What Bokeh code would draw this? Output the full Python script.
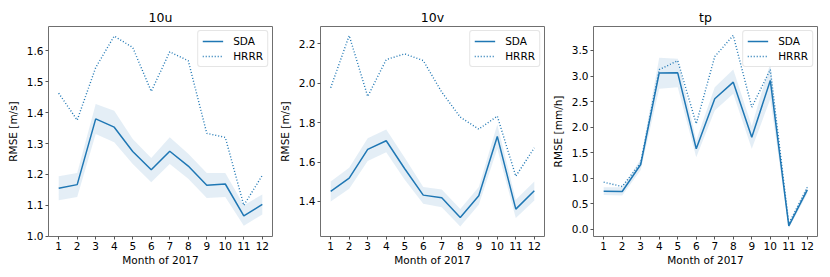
from bokeh.plotting import figure
from bokeh.layouts import row
from bokeh.models import Range1d, FixedTicker, PrintfTickFormatter, Legend, LegendItem
from bokeh.embed import file_html
from bokeh.resources import INLINE

months = [1, 2, 3, 4, 5, 6, 7, 8, 9, 10, 11, 12]
month_labels = ["1", "2", "3", "4", "5", "6", "7", "8", "9", "10", "11", "12"]

# 10u
u_sda = [1.155, 1.167, 1.380, 1.353, 1.274, 1.215, 1.275, 1.227, 1.165, 1.169, 1.066, 1.103]
u_sda_lo = [1.116, 1.127, 1.331, 1.304, 1.234, 1.175, 1.234, 1.186, 1.124, 1.127, 1.034, 1.070]
u_sda_hi = [1.194, 1.205, 1.428, 1.406, 1.315, 1.253, 1.320, 1.267, 1.205, 1.205, 1.100, 1.135]
u_hrrr = [1.463, 1.376, 1.546, 1.648, 1.611, 1.469, 1.597, 1.568, 1.333, 1.320, 1.100, 1.197]

# 10v
v_sda = [1.451, 1.518, 1.664, 1.708, 1.566, 1.432, 1.419, 1.319, 1.429, 1.730, 1.361, 1.454]
v_sda_lo = [1.400, 1.464, 1.605, 1.650, 1.510, 1.388, 1.371, 1.273, 1.383, 1.667, 1.316, 1.405]
v_sda_hi = [1.501, 1.571, 1.721, 1.765, 1.622, 1.473, 1.461, 1.361, 1.473, 1.790, 1.409, 1.501]
v_hrrr = [1.977, 2.242, 1.933, 2.120, 2.149, 2.115, 1.955, 1.828, 1.767, 1.833, 1.528, 1.672]

# tp
tp_sda = [0.744, 0.738, 1.267, 3.060, 3.063, 1.575, 2.554, 2.880, 1.800, 2.913, 0.065, 0.770]
tp_sda_lo = [0.670, 0.660, 1.160, 2.750, 2.780, 1.410, 2.325, 2.652, 1.575, 2.550, 0.020, 0.700]
tp_sda_hi = [0.820, 0.820, 1.370, 3.357, 3.340, 1.740, 2.780, 3.130, 2.020, 3.250, 0.110, 0.850]
tp_hrrr = [0.921, 0.836, 1.300, 3.125, 3.300, 2.065, 3.382, 3.794, 2.390, 3.125, 0.110, 0.820]

BLUE = "#1f77b4"
FONT = "DejaVu Sans"


def panel(title, ylabel, sda, lo, hi, hrrr, y0, y1, yticks, left_border, right_border):
    p = figure(frame_width=224, frame_height=210,
               x_range=Range1d(0.45, 12.55), y_range=Range1d(y0, y1),
               output_backend="svg", toolbar_location=None,
               min_border_left=left_border, min_border_right=right_border,
               min_border_top=26, min_border_bottom=36)
    p.background_fill_color = "white"
    p.border_fill_color = None
    p.xgrid.grid_line_color = None
    p.ygrid.grid_line_color = None
    p.outline_line_color = "#6f6f6f"
    p.outline_line_width = 1

    p.title.text = title
    p.title.align = "center"
    p.title.text_font = FONT
    p.title.text_font_size = "12.5px"
    p.title.text_font_style = "normal"
    p.title.text_color = "black"
    p.title.standoff = 3

    p.xaxis.ticker = FixedTicker(ticks=months)
    p.xaxis.major_label_overrides = {m: l for m, l in zip(months, month_labels)}
    p.yaxis.ticker = FixedTicker(ticks=yticks)
    p.yaxis.formatter = PrintfTickFormatter(format="%.1f")
    p.xaxis.axis_label = "Month of 2017"
    p.yaxis.axis_label = ylabel
    for ax in (p.xaxis[0], p.yaxis[0]):
        ax.axis_line_color = None
        ax.major_tick_line_color = "#555555"
        ax.major_tick_out = 3
        ax.major_tick_in = 0
        ax.minor_tick_line_color = None
        ax.major_label_text_font = FONT
        ax.major_label_text_font_size = "10.5px"
        ax.major_label_text_color = "black"
        ax.major_label_standoff = 2
        ax.axis_label_text_font = FONT
        ax.axis_label_text_font_size = "10.5px"
        ax.axis_label_text_font_style = "normal"
        ax.axis_label_text_color = "black"
    p.xaxis.axis_label_standoff = 1
    p.yaxis.axis_label_standoff = 5

    p.varea(x=months, y1=lo, y2=hi, fill_color=BLUE, fill_alpha=0.12)
    r1 = p.line(months, sda, line_color=BLUE, line_width=1.5)
    r2 = p.line(months, hrrr, line_color=BLUE, line_width=1.4, line_dash="1 2")

    leg = Legend(items=[LegendItem(label="SDA", renderers=[r1]),
                        LegendItem(label="HRRR", renderers=[r2])],
                 location="top_right")
    leg.label_text_font = FONT
    leg.label_text_font_size = "10.5px"
    leg.label_text_color = "black"
    leg.glyph_width = 21
    leg.glyph_height = 12
    leg.label_height = 12
    leg.label_standoff = 10
    leg.spacing = 3
    leg.padding = 4
    leg.margin = 4
    leg.border_line_color = "#cccccc"
    leg.border_line_width = 1
    leg.background_fill_alpha = 0.85
    if "border_radius" in leg.properties():
        leg.border_radius = 3
    p.add_layout(leg)
    return p


p1 = panel("10u", "RMSE [m/s]", u_sda, u_sda_lo, u_sda_hi, u_hrrr,
           0.999, 1.679, [1.0, 1.1, 1.2, 1.3, 1.4, 1.5, 1.6], 48, 1)
p2 = panel("10v", "RMSE [m/s]", v_sda, v_sda_lo, v_sda_hi, v_hrrr,
           1.222, 2.288, [1.4, 1.6, 1.8, 2.0, 2.2], 47, 2)
p3 = panel("tp", "RMSE [mm/h]", tp_sda, tp_sda_lo, tp_sda_hi, tp_hrrr,
           -0.143, 3.97, [0.0, 0.5, 1.0, 1.5, 2.0, 2.5, 3.0, 3.5], 47, 4)

layout = row(p1, p2, p3, spacing=0)
open("out.html", "w").write(file_html(layout, INLINE))
